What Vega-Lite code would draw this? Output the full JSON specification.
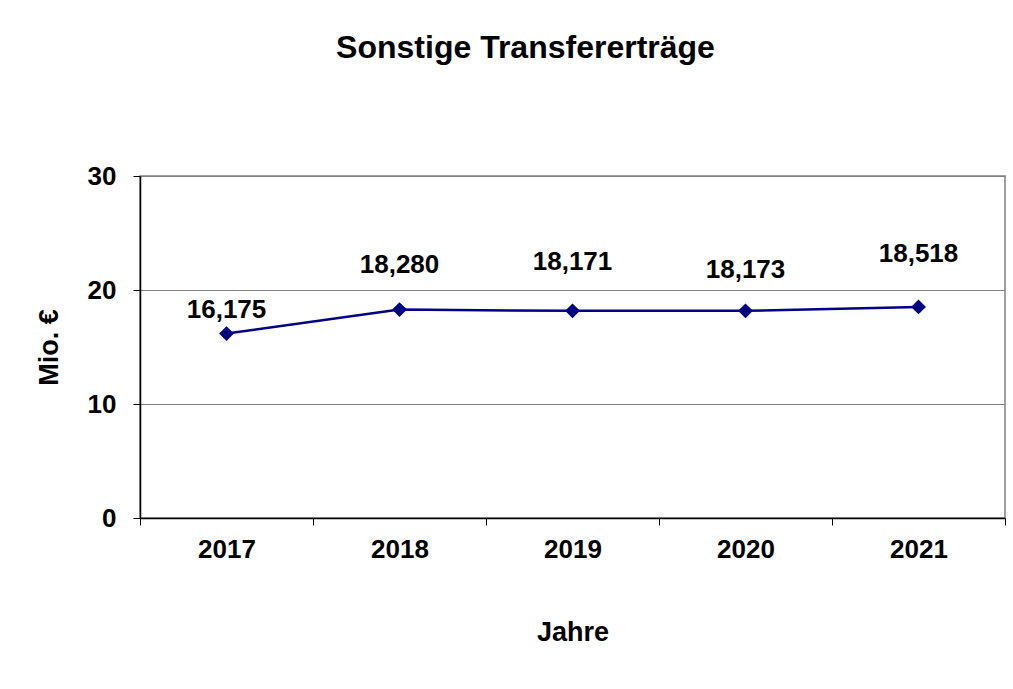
{
  "$schema": "https://vega.github.io/schema/vega-lite/v6.json",
  "autosize": "none",
  "width": 865,
  "height": 342,
  "padding": {"left": 140, "top": 176, "right": 8, "bottom": 171},
  "background": "white",
  "config": {
    "font": "Liberation Sans",
    "view": {"stroke": "#808080", "strokeWidth": 1.5},
    "axis": {"labelFont": "Liberation Sans", "titleFont": "Liberation Sans"}
  },
  "title": {
    "text": "Sonstige Transfererträge",
    "font": "Liberation Sans",
    "fontSize": 32,
    "fontWeight": "bold",
    "color": "black",
    "anchor": "middle",
    "dx": -47,
    "offset": 98
  },
  "data": {
    "values": [
      {"Jahr": "2017", "Wert": 16.175, "Label": "16,175"},
      {"Jahr": "2018", "Wert": 18.280, "Label": "18,280"},
      {"Jahr": "2019", "Wert": 18.171, "Label": "18,171"},
      {"Jahr": "2020", "Wert": 18.173, "Label": "18,173"},
      {"Jahr": "2021", "Wert": 18.518, "Label": "18,518"}
    ]
  },
  "encoding": {
    "x": {
      "field": "Jahr",
      "type": "ordinal",
      "scale": {"paddingInner": 0, "paddingOuter": 0},
      "axis": {
        "title": "Jahre",
        "titleFontSize": 27,
        "titleFontWeight": "bold",
        "titleColor": "black",
        "titlePadding": 57,
        "labelAngle": 0,
        "labelFontSize": 26,
        "labelFontWeight": "bold",
        "labelColor": "black",
        "labelPadding": 11,
        "tickBand": "extent",
        "tickSize": 7,
        "tickColor": "black",
        "domainColor": "black",
        "domainWidth": 1.5,
        "grid": false
      }
    },
    "y": {
      "field": "Wert",
      "type": "quantitative",
      "scale": {"domain": [0, 30]},
      "axis": {
        "title": "Mio. €",
        "titleFontSize": 27,
        "titleFontWeight": "bold",
        "titleColor": "black",
        "titlePadding": 24,
        "values": [0, 10, 20, 30],
        "labelFontSize": 26,
        "labelFontWeight": "bold",
        "labelColor": "black",
        "labelPadding": 17,
        "tickSize": 7,
        "tickColor": "black",
        "domainColor": "black",
        "domainWidth": 1.5,
        "gridColor": "#808080",
        "gridWidth": 1
      }
    }
  },
  "layer": [
    {
      "mark": {"type": "line", "color": "#000080", "strokeWidth": 2.5}
    },
    {
      "mark": {"type": "point", "shape": "diamond", "filled": true, "color": "#000080", "size": 220, "opacity": 1}
    },
    {
      "transform": [{"filter": "datum.Jahr == '2017'"}],
      "mark": {"type": "text", "fontSize": 26, "fontWeight": "bold", "color": "black", "dy": -24, "baseline": "middle"},
      "encoding": {"text": {"field": "Label"}}
    },
    {
      "transform": [{"filter": "datum.Jahr == '2018'"}],
      "mark": {"type": "text", "fontSize": 26, "fontWeight": "bold", "color": "black", "dy": -45, "baseline": "middle"},
      "encoding": {"text": {"field": "Label"}}
    },
    {
      "transform": [{"filter": "datum.Jahr == '2019'"}],
      "mark": {"type": "text", "fontSize": 26, "fontWeight": "bold", "color": "black", "dy": -49, "baseline": "middle"},
      "encoding": {"text": {"field": "Label"}}
    },
    {
      "transform": [{"filter": "datum.Jahr == '2020'"}],
      "mark": {"type": "text", "fontSize": 26, "fontWeight": "bold", "color": "black", "dy": -41, "baseline": "middle"},
      "encoding": {"text": {"field": "Label"}}
    },
    {
      "transform": [{"filter": "datum.Jahr == '2021'"}],
      "mark": {"type": "text", "fontSize": 26, "fontWeight": "bold", "color": "black", "dy": -53, "baseline": "middle"},
      "encoding": {"text": {"field": "Label"}}
    }
  ]
}
